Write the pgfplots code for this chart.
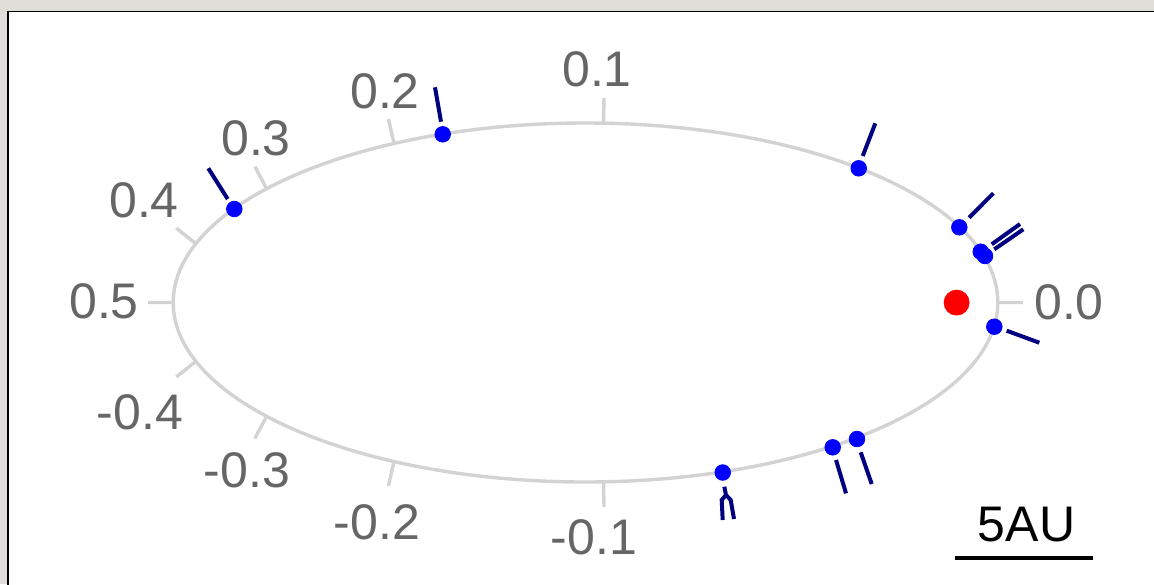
\documentclass[border=0pt]{standalone}
\usepackage{fontspec}
\setmainfont{Liberation Sans}
\usepackage{pgfplots}
\pgfplotsset{compat=1.18}
\definecolor{bgc}{RGB}{222,221,216}
\definecolor{tickgray}{RGB}{211,211,211}
\definecolor{labgray}{RGB}{102,102,102}
\definecolor{navyc}{RGB}{0,0,128}
\begin{document}
\begin{tikzpicture}
\begin{axis}[
  scale only axis, width=577pt, height=292pt,
  xmin=0, xmax=1154, ymin=0, ymax=584, y dir=reverse,
  axis lines=none, ticks=none,
  unbounded coords=jump,
  clip=true,
]
% background and panel
\fill[bgc] (rel axis cs:0,0) rectangle (rel axis cs:1,1);
\fill[white] (axis cs:8,11.5) rectangle (axis cs:1200,650);
\draw[black, line width=0.8pt] (axis cs:1200,11.5) -- (axis cs:8,11.5) -- (axis cs:8,650);
% orbit
\draw[tickgray, line width=1.7pt] (axis cs:585.5,302.5) ellipse [x radius=412.3, y radius=179.5];
% phase ticks
\addplot[tickgray, line width=1.7pt] coordinates {
 (997.8,302.5) (1022.8,302.5) (0,nan)
 (603.5,123.2) (604,98.2) (0,nan)
 (394,143.5) (388.4,119) (0,nan)
 (266.6,188.7) (254.9,166.6) (0,nan)
 (195.9,243.7) (176.3,228.1) (0,nan)
 (173.2,302.5) (148.2,302.5) (0,nan)
 (195.9,361.3) (176.3,376.9) (0,nan)
 (266.6,416.3) (254.9,438.4) (0,nan)
 (394,461.5) (388.4,485.9) (0,nan)
 (603.5,481.8) (604,506.8)
};
% phase labels
\begin{scope}[every node/.style={inner sep=0pt, text=labgray, font=\fontsize{25}{30}\selectfont}]
\node at (axis cs:597,69) {0.1};
\node at (axis cs:385,91) {0.2};
\node at (axis cs:256,138) {0.3};
\node at (axis cs:144,200) {0.4};
\node at (axis cs:104,301) {0.5};
\node at (axis cs:1069,302) {0.0};
\node at (axis cs:140,412) {-0.4};
\node at (axis cs:247,470) {-0.3};
\node at (axis cs:377,522) {-0.2};
\node at (axis cs:594,537) {-0.1};
\end{scope}
% velocity marks
\addplot[navyc, line width=2pt] coordinates {
 (208.3,168.3) (227.7,199) (0,nan)
 (435,87.3) (441,121.7) (0,nan)
 (875.3,123.3) (862.7,156) (0,nan)
 (993.3,193.3) (969,217.7) (0,nan)
 (991.7,244.3) (1020,224) (0,nan)
 (994.3,249.3) (1023.3,229.3) (0,nan)
 (1006.7,330.7) (1039.3,342.7) (0,nan)
 (836,460) (846,493.3) (0,nan)
 (860.7,452.3) (871.7,484) (0,nan)
 (724.3,486.7) (726,495) (0,nan)
 (726,495) (721.7,500) (722.7,520) (0,nan)
 (726,495) (730.7,500) (734,519)
};
% observations
\addplot[only marks, mark=*, mark size=3.9pt, color=blue, mark options={fill=blue, draw=blue}] coordinates {
 (234.3,209) (442.7,134.3) (858.7,168.3) (959.3,227.3) (980.7,251.7) (985,256)
 (994.3,326.7) (722.7,472.5) (832.7,447.3) (857,439)
};
% star
\addplot[only marks, mark=*, mark size=6.25pt, color=red, mark options={fill=red, draw=red}] coordinates {(956.6,302.6)};
% scale bar
\addplot[black, line width=2pt] coordinates {(955,557.7) (1092.7,557.7)};
\node[inner sep=0pt, font=\fontsize{25}{30}\selectfont] at (axis cs:1026.5,524.5) {5AU};
\end{axis}
\end{tikzpicture}
\end{document}
